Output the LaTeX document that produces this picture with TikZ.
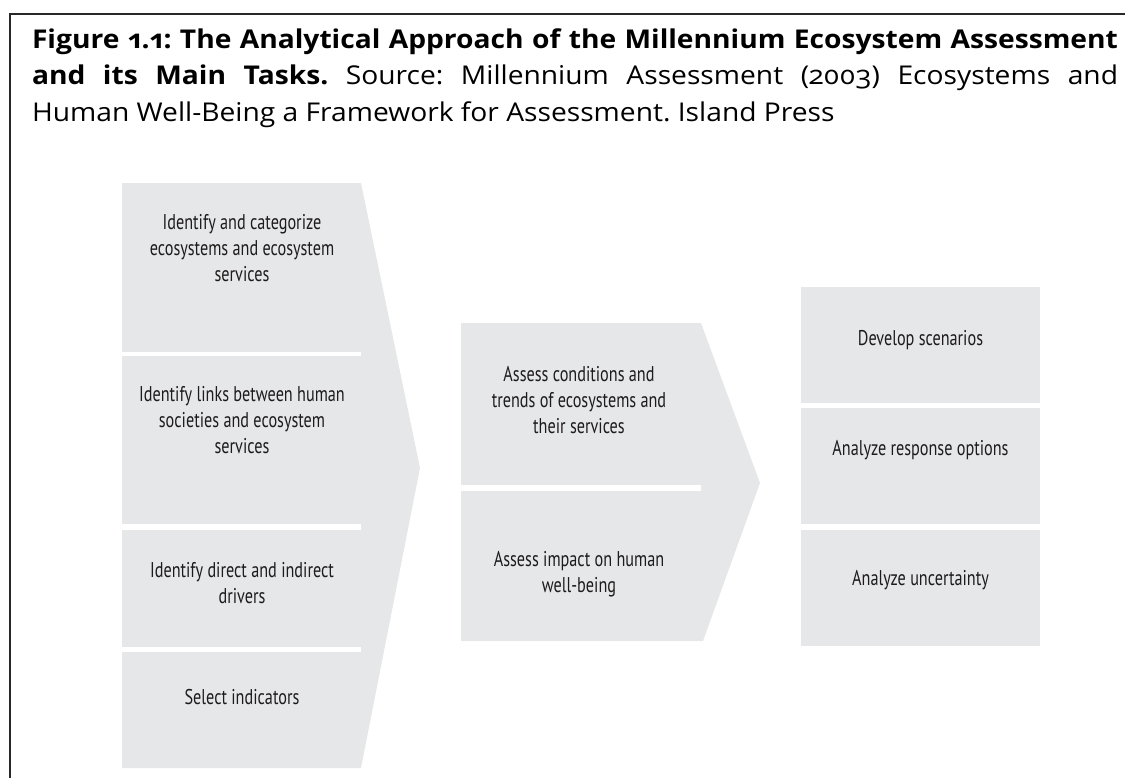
\documentclass[tikz,border=0pt]{standalone}
\usepackage{fontspec}
\setmainfont{Open Sans}[Numbers=OldStyle, FakeStretch=1.09]
\newfontfamily\boxfont{PT Sans}[FakeStretch=0.76]
\definecolor{boxgray}{RGB}{230,231,232}
\definecolor{ink}{RGB}{30,27,28}
\definecolor{framecol}{RGB}{40,40,40}
\begin{document}
\begin{tikzpicture}[x=0.75pt,y=-0.75pt,
  lbl/.style={align=center, anchor=base, inner sep=0pt, text=ink,
    font=\boxfont\fontsize{16pt}{19.5pt}\selectfont},
  panel/.style={fill=boxgray},
  gap/.style={fill=white}]
\useasboundingbox (0,0) rectangle (1125,778);
% frame
\draw[line width=1.1pt, framecol] (10,778) -- (10,14) -- (1125,14);
% title
\node[anchor=base west, inner sep=0pt, outer sep=0pt] (title) at (32,48) {\parbox[t]{814.5pt}{\fontsize{19.4pt}{27.4pt}\selectfont\frenchspacing\hyphenpenalty=10000 \textbf{Figure 1.1: The Analytical Approach of the Millennium Ecosystem Assessment\linebreak and its Main Tasks.} Source: Millennium Assessment (2003) Ecosystems and\linebreak Human Well-Being a Framework for Assessment. Island Press}};
% left chevron
\fill[panel] (122,183) -- (361,183) -- (420,468) -- (361,768) -- (122,768) -- cycle;
\fill[gap] (122,352) rectangle (361,356);
\fill[gap] (122,524) rectangle (361,530);
\fill[gap] (122,647) rectangle (361,652);
% middle chevron
\fill[panel] (461,323) -- (701,323) -- (760,483) -- (703,641) -- (461,641) -- cycle;
\fill[gap] (461,485) rectangle (701,491);
% right boxes
\fill[panel] (801,287) rectangle (1040,403);
\fill[panel] (801,408) rectangle (1040,524);
\fill[panel] (801,530) rectangle (1040,646);
% texts (anchor = baseline of last line)
\node[lbl] (l1) at (242,281) {Identify and categorize\\ecosystems and ecosystem\\services};
\node[lbl] (l2) at (242,453.7) {Identify links between human\\societies and ecosystem\\services};
\node[lbl] (l3) at (242,603) {Identify direct and indirect\\drivers};
\node[lbl] (l4) at (242,704) {Select indicators};
\node[lbl] (m1) at (579,433) {Assess conditions and\\trends of ecosystems and\\their services};
\node[lbl] (m2) at (579,592.7) {Assess impact on human\\well-being};
\node[lbl] (r1) at (920.5,345) {Develop scenarios};
\node[lbl] (r2) at (920.5,455) {Analyze response options};
\node[lbl] (r3) at (920.5,585) {Analyze uncertainty};
\end{tikzpicture}
\end{document}
